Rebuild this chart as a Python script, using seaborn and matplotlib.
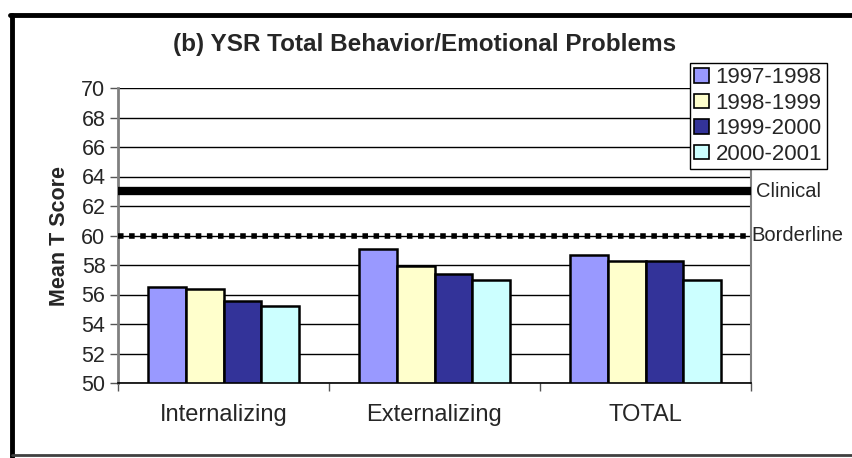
import matplotlib
matplotlib.use('Agg')
import matplotlib.pyplot as plt
import seaborn as sns
import pandas as pd
from matplotlib.lines import Line2D
from matplotlib.patches import Patch

# data
categories = ['Internalizing', 'Externalizing', 'TOTAL']
years = ['1997-1998', '1998-1999', '1999-2000', '2000-2001']
scores = {
    '1997-1998': [56.5, 59.1, 58.7],
    '1998-1999': [56.4, 57.95, 58.25],
    '1999-2000': [55.55, 57.4, 58.25],
    '2000-2001': [55.2, 56.95, 57.0],
}
clinical = 63
borderline = 60
colors = ['#9999FF', '#FFFFCC', '#333399', '#CCFFFF']

rows = []
for y in years:
    for c, v in zip(categories, scores[y]):
        rows.append({'category': c, 'year': y, 'score': v})
df = pd.DataFrame(rows)

sns.set_style('white')
plt.rcParams['font.family'] = ['Liberation Sans', 'DejaVu Sans']

W, H = 852, 458
fig = plt.figure(figsize=(W / 100, H / 100), dpi=100)
ax = fig.add_axes([118 / W, (H - 383) / H, (751 - 118) / W, (383 - 88) / H])

sns.barplot(data=df, x='category', y='score', hue='year', palette=colors,
            hue_order=years, order=categories, width=0.72, ax=ax, saturation=1,
            edgecolor='black', linewidth=1.8, errorbar=None, legend=False)

ax.set_ylim(50, 70)
ax.set_xlim(-0.5, 2.5)
ax.set_yticks(range(50, 71, 2))
ax.tick_params(axis='y', labelsize=15.5, length=6, width=1, direction='out',
               left=True, pad=3, color='#555555')
ax.set_xticks(range(len(categories)))
ax.set_xticklabels(categories, fontsize=17)
ax.tick_params(axis='x', length=0, pad=15)
ax.set_xticks([-0.5, 0.5, 1.5, 2.5], minor=True)
ax.tick_params(axis='x', which='minor', length=6, width=1, direction='out',
               bottom=True, color='#555555')
ax.yaxis.grid(True, color='black', linewidth=1)
ax.set_axisbelow(True)
ax.set_xlabel('')
ax.set_ylabel('Mean T Score', fontsize=15.5, fontweight='bold', labelpad=8)

ax.spines['bottom'].set_color('black')
ax.spines['bottom'].set_linewidth(1.2)
ax.spines['left'].set_color('#808080')
ax.spines['left'].set_linewidth(2)
ax.spines['right'].set_color('#808080')
ax.spines['right'].set_linewidth(1.5)
ax.spines['top'].set_visible(False)

# reference lines
ax.axhline(clinical, color='black', linewidth=6, zorder=5)
ax.axhline(borderline, color='black', linewidth=4, linestyle=(0, (1, 1)), zorder=5)
ax.text(1.008, clinical, 'Clinical', transform=ax.get_yaxis_transform(),
        fontsize=14.5, va='center', ha='left')
ax.text(1.0, borderline, 'Borderline', transform=ax.get_yaxis_transform(),
        fontsize=14.5, va='center', ha='left')

# legend
handles = [Patch(facecolor=c, edgecolor='black', linewidth=1.2) for c in colors]
leg = fig.legend(handles, years, loc='upper left', bbox_to_anchor=(690 / W, 1 - 63 / H),
                 fontsize=16, frameon=True, fancybox=False, framealpha=1,
                 borderpad=0.2, handlelength=0.65, handleheight=0.65,
                 handletextpad=0.3, labelspacing=0.2, borderaxespad=0)
leg.get_frame().set_edgecolor('black')
leg.get_frame().set_linewidth(1)

fig.text(425 / W, 1 - 45 / H, '(b) YSR Total Behavior/Emotional Problems',
         fontsize=17.5, fontweight='bold', ha='center', va='center')

# outer chart frame
fig.add_artist(Line2D([10 / W, 1], [1 - 15 / H, 1 - 15 / H], color='black', linewidth=3.5))
fig.add_artist(Line2D([12 / W, 12 / W], [1 - 15 / H, 0], color='black', linewidth=3.5))
fig.add_artist(Line2D([12 / W, 1], [1 - 455 / H, 1 - 455 / H], color='#404040', linewidth=2))

fig.savefig('out.png', dpi=100, facecolor='white')
